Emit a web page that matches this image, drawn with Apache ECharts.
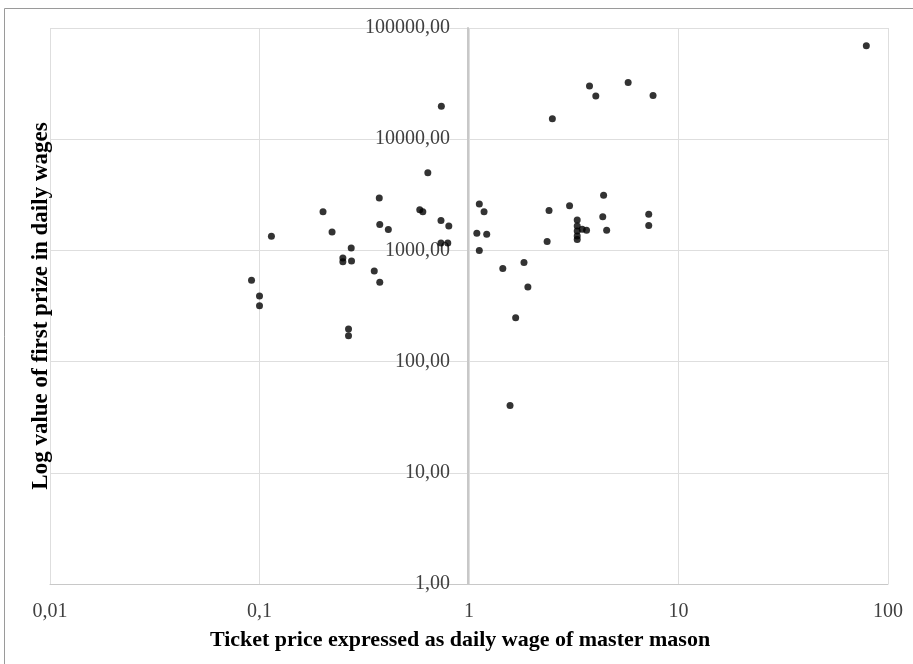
<!DOCTYPE html>
<html>
<head>
<meta charset="utf-8">
<script src="https://cdn.jsdelivr.net/npm/echarts@6/dist/echarts.min.js"></script>
<style>
  html, body { margin: 0; padding: 0; background: #fff; }
  #chart { width: 913px; height: 664px; }
</style>
</head>
<body>
<div id="chart"></div>
<script>
// ticket price (daily wages of master mason) and first prize (daily wages)
var ticketPrice = [
  0.636, 0.373, 0.201, 0.582, 0.602, 0.735, 0.801, 0.375, 0.412, 0.114,
  0.222, 0.735, 0.792, 0.274, 0.250, 0.250, 0.275, 0.353, 0.375, 0.0916,
  0.100, 0.100, 0.266, 0.266, 0.738,
  78.8, 5.75, 3.76, 4.03, 7.56, 2.50, 4.39, 1.12, 1.18, 3.02,
  2.41, 4.35, 4.54, 7.21, 7.21, 1.09, 1.215, 1.12, 2.36,
  3.285, 3.285, 3.285, 3.285, 3.285, 3.47, 3.64,
  1.45, 1.83, 1.91, 1.67, 1.57
];
var firstPrize = [
  5000, 2960, 2230, 2320, 2230, 1860, 1660, 1710, 1540, 1340,
  1460, 1165, 1165, 1050, 856, 791, 803, 653, 516, 540,
  389, 318, 196, 171, 19800,
  69300, 32400, 30100, 24400, 24700, 15300, 3130, 2610, 2230, 2520,
  2290, 2010, 1520, 2110, 1675, 1430, 1400, 1000, 1205,
  1877, 1657, 1494, 1347, 1253, 1548, 1517,
  686, 778, 468, 248, 40.3
];

var points = ticketPrice.map(function (x, i) { return [x, firstPrize[i]]; });

var chart = echarts.init(document.getElementById('chart'), null, { renderer: 'canvas' });

var fontFam = '"Liberation Serif", "DejaVu Serif", serif';

var option = {
  backgroundColor: '#ffffff',
  animation: false,
  graphic: [
    {
      type: 'rect',
      shape: { x: 4.5, y: 8.5, width: 1000, height: 1000 },
      style: { fill: 'none', stroke: '#9a9a9a', lineWidth: 1 },
      silent: true
    }
  ],
  grid: { left: 50, right: 25, top: 28, bottom: 80 },
  xAxis: {
    type: 'log',
    logBase: 10,
    min: 0.01,
    max: 100,
    name: 'Ticket price expressed as daily wage of master mason',
    nameLocation: 'middle',
    nameGap: 45,
    nameTextStyle: {
      fontFamily: fontFam, fontSize: 22, fontWeight: 'bold', color: '#000',
      padding: [0, 18, 0, 0]
    },
    axisLine: { show: true, lineStyle: { color: '#c8c8c8', width: 1 } },
    axisTick: { show: false },
    axisLabel: {
      fontFamily: fontFam, fontSize: 20, color: '#404040', margin: 18,
      formatter: function (v) { return String(+v.toPrecision(6)).replace('.', ','); }
    },
    splitLine: { show: true, lineStyle: { color: '#dedede', width: 1 } }
  },
  yAxis: {
    type: 'log',
    logBase: 10,
    min: 1,
    max: 100000,
    position: 'left',
    offset: -418,
    name: 'Log value of first prize in daily wages',
    nameLocation: 'middle',
    nameGap: 415,
    nameRotate: 90,
    nameTextStyle: { fontFamily: fontFam, fontSize: 23, fontWeight: 'bold', color: '#000' },
    axisLine: { show: true, lineStyle: { color: '#c8c8c8', width: 2 } },
    axisTick: { show: false },
    axisLabel: {
      fontFamily: fontFam, fontSize: 20, color: '#404040', margin: 18,
      formatter: function (v) { return (+v.toPrecision(6)).toFixed(2).replace('.', ','); }
    },
    splitLine: { show: true, lineStyle: { color: '#dedede', width: 1 } }
  },
  series: [
    {
      type: 'scatter',
      data: points,
      symbol: 'circle',
      symbolSize: 7,
      itemStyle: { color: '#000000' }
    }
  ]
};

chart.setOption(option);
</script>
</body>
</html>
